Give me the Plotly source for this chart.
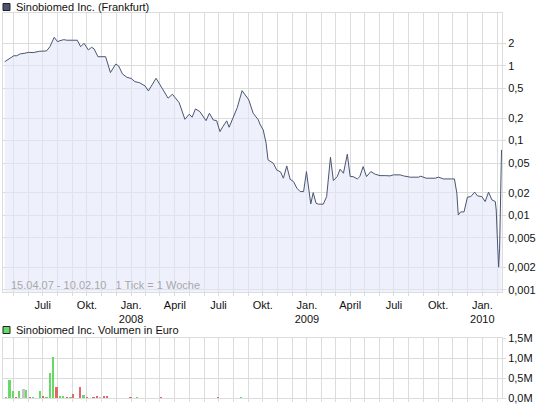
import plotly.graph_objects as go

# Kursdaten (Frankfurt)
price_dates = [
    "2007-04-13", "2007-04-24", "2007-05-02", "2007-05-08", "2007-05-15", "2007-05-25", "2007-06-01", "2007-06-11", "2007-06-24", "2007-07-09",
    "2007-07-16", "2007-07-25", "2007-08-01", "2007-08-06", "2007-08-14", "2007-08-20", "2007-08-28", "2007-09-02", "2007-09-11", "2007-09-18",
    "2007-09-25", "2007-10-04", "2007-10-11", "2007-10-16", "2007-10-24", "2007-11-09", "2007-11-19", "2007-11-30", "2007-12-06", "2007-12-14",
    "2007-12-23", "2008-01-01", "2008-01-09", "2008-01-18", "2008-01-30", "2008-02-06", "2008-02-22", "2008-03-05", "2008-03-18", "2008-03-27",
    "2008-04-10", "2008-04-22", "2008-05-01", "2008-05-07", "2008-05-14", "2008-05-23", "2008-06-05", "2008-06-12", "2008-06-20", "2008-06-27",
    "2008-07-04", "2008-07-10", "2008-07-18", "2008-07-23", "2008-08-01", "2008-08-09", "2008-08-19", "2008-09-02", "2008-09-11", "2008-09-22",
    "2008-09-25", "2008-10-02", "2008-10-08", "2008-10-12", "2008-10-23", "2008-10-30", "2008-11-07", "2008-11-13", "2008-11-20", "2008-11-27",
    "2008-12-04", "2008-12-11", "2008-12-18", "2008-12-25", "2008-12-31", "2009-01-04", "2009-01-09", "2009-01-14", "2009-01-20", "2009-01-25",
    "2009-02-04", "2009-02-11", "2009-02-14", "2009-02-19", "2009-02-25", "2009-03-05", "2009-03-11", "2009-03-18", "2009-03-26", "2009-04-01",
    "2009-04-07", "2009-04-16", "2009-04-21", "2009-04-28", "2009-05-05", "2009-05-14", "2009-05-23", "2009-06-02", "2009-06-13", "2009-06-23",
    "2009-06-30", "2009-07-14", "2009-07-21", "2009-08-04", "2009-08-21", "2009-08-26", "2009-09-06", "2009-09-25", "2009-10-02", "2009-10-12",
    "2009-10-29", "2009-11-04", "2009-11-09", "2009-11-12", "2009-11-17", "2009-11-24", "2009-12-01", "2009-12-08", "2009-12-16", "2009-12-22",
    "2009-12-31", "2010-01-07", "2010-01-14", "2010-01-21", "2010-01-28", "2010-01-30", "2010-02-01", "2010-02-03", "2010-02-04", "2010-02-06",
    "2010-02-08", "2010-02-09", "2010-02-10",
]
prices = [
    1.14, 1.27, 1.37, 1.37, 1.45, 1.48, 1.52, 1.51, 1.57, 1.59,
    1.81, 2.42, 2.11, 2.18, 2.25, 2.21, 2.23, 2.21, 2.21, 1.81,
    2.01, 1.64, 1.78, 1.69, 1.33, 1.33, 0.814, 1.06, 1.0, 0.782,
    0.706, 0.68, 0.616, 0.598, 0.540, 0.463, 0.684, 0.512, 0.370, 0.418,
    0.323, 0.193, 0.226, 0.206, 0.266, 0.245, 0.185, 0.233, 0.189, 0.185,
    0.132, 0.154, 0.184, 0.151, 0.214, 0.277, 0.467, 0.351, 0.233, 0.189,
    0.167, 0.139, 0.0923, 0.0552, 0.0498, 0.0405, 0.0381, 0.0314, 0.0458, 0.0304,
    0.0283, 0.0231, 0.0208, 0.0208, 0.0385, 0.0231, 0.0142, 0.0201, 0.0145, 0.0141,
    0.0141, 0.0178, 0.0269, 0.0600, 0.0292, 0.0330, 0.0414, 0.0366, 0.0658, 0.0330,
    0.0330, 0.0307, 0.0330, 0.0449, 0.0330, 0.0385, 0.0355, 0.0340, 0.0340, 0.0337,
    0.0348, 0.0348, 0.0337, 0.0324, 0.0324, 0.0334, 0.0314, 0.0314, 0.0324, 0.0307,
    0.0307, 0.0307, 0.0198, 0.0101, 0.0111, 0.0111, 0.0175, 0.0178, 0.0204, 0.0182,
    0.0178, 0.0153, 0.0204, 0.0161, 0.0153, 0.0118, 0.00547, 0.0028, 0.00202, 0.00363,
    0.0124, 0.0405, 0.0751,
]

# Volumen in Euro
vol_dates = ["2007-04-17", "2007-04-24", "2007-05-02", "2007-05-08", "2007-05-14", "2007-05-23", "2007-05-29",
             "2007-06-06", "2007-06-12", "2007-06-27", "2007-07-03", "2007-07-10", "2007-07-18", "2007-07-24",
             "2007-07-31", "2007-08-08", "2007-08-14", "2007-08-22", "2007-08-29", "2007-09-04", "2007-09-18",
             "2007-09-25", "2007-10-03", "2007-10-16", "2007-10-24", "2007-10-30", "2007-11-07", "2007-11-13",
             "2008-01-01", "2008-01-15", "2008-03-05", "2008-07-01", "2008-08-18"]
vol_values = [25000, 450000, 175000, 25000, 175000, 225000, 200000, 25000, 25000, 175000, 50000,
              25000, 625000, 1025000, 275000, 50000, 50000, 25000, 25000, 100000, 275000, 75000,
              25000, 25000, 50000, 25000, 50000, 50000, 25000, 25000, 25000, 25000, 25000]
vol_dir = ["up", "up", "up", "down", "up", "flat", "up", "down", "up", "up", "down",
           "up", "up", "up", "down", "up", "up", "down", "up", "down", "down", "up",
           "down", "down", "down", "flat", "down", "down", "down", "up", "down", "down", "up"]

month_ticks = ["2007-05-01", "2007-06-01", "2007-07-01", "2007-08-01", "2007-09-01", "2007-10-01",
               "2007-11-01", "2007-12-01", "2008-01-01", "2008-02-01", "2008-03-01", "2008-04-01",
               "2008-05-01", "2008-06-01", "2008-07-01", "2008-08-01", "2008-09-01", "2008-10-01",
               "2008-11-01", "2008-12-01", "2009-01-01", "2009-02-01", "2009-03-01", "2009-04-01",
               "2009-05-01", "2009-06-01", "2009-07-01", "2009-08-01", "2009-09-01", "2009-10-01",
               "2009-11-01", "2009-12-01", "2010-01-01", "2010-02-01"]
month_labels = ["", "", "Juli", "", "", "Okt.", "", "", "Jan.<br>2008", "", "", "April",
                "", "", "Juli", "", "", "Okt.", "", "", "Jan.<br>2009", "", "", "April",
                "", "", "Juli", "", "", "Okt.", "", "", "Jan.<br>2010", ""]

price_ticks = [0.001, 0.002, 0.005, 0.01, 0.02, 0.05, 0.1, 0.2, 0.5, 1, 2]
price_labels = ["0,001", "0,002", "0,005", "0,01", "0,02", "0,05", "0,1", "0,2", "0,5", "1", "2"]
vol_ticks = [0, 500000, 1000000, 1500000]
vol_labels = ["0,0M", "0,5M", "1,0M", "1,5M"]

dir_colors = {"up": "#66d966", "down": "#e06868", "flat": "#c4c4c4"}

W, H = 545, 407
GRID = "#dcdcdc"
LINE = "#4b5570"
FONT = "Liberation Sans"

fig = go.Figure()

# unsichtbare Basislinie, damit die Fläche bis zum unteren Rand reicht
fig.add_trace(go.Scatter(x=price_dates, y=[0.0005] * len(price_dates), mode="lines",
                         line=dict(width=0), hoverinfo="skip", showlegend=False,
                         xaxis="x", yaxis="y"))
fig.add_trace(go.Scatter(x=price_dates, y=prices, mode="lines", fill="tonexty",
                         fillcolor="rgba(226,232,250,0.6)", line=dict(color=LINE, width=1),
                         showlegend=False, xaxis="x", yaxis="y"))

fig.add_trace(go.Bar(x=vol_dates, y=vol_values, width=3.5 * 86400000,
                     marker=dict(color=[dir_colors[d] for d in vol_dir], line=dict(width=0)),
                     showlegend=False, xaxis="x2", yaxis="y2"))

x_left = 3.3 / W
x_right = 502 / W
xrange = ["2007-04-10", "2010-02-11"]

axis_common = dict(tickvals=month_ticks, showgrid=True, gridcolor=GRID, gridwidth=1,
                   showline=True, linecolor=GRID, mirror=True, ticks="outside",
                   ticklen=3, tickcolor=GRID, zeroline=False, range=xrange, automargin=False)

fig.update_layout(
    width=W, height=H,
    margin=dict(l=0, r=0, t=0, b=0),
    paper_bgcolor="white", plot_bgcolor="white",
    font=dict(family=FONT, size=11, color="#111111"),
    bargap=0,
    xaxis=dict(domain=[x_left, x_right], anchor="y", ticktext=month_labels,
               tickfont=dict(size=11), **axis_common),
    yaxis=dict(domain=[1 - 291.7 / H, 1 - 13.3 / H], anchor="x", type="log",
               range=[-3.023, 0.705], side="right", tickvals=price_ticks, ticktext=price_labels,
               showgrid=True, gridcolor=GRID, showline=True, linecolor=GRID, mirror=True,
               ticks="outside", ticklen=3, tickcolor=GRID, zeroline=False, automargin=False),
    xaxis2=dict(domain=[x_left, x_right], anchor="y2", ticktext=[""] * len(month_ticks),
                **axis_common),
    yaxis2=dict(domain=[1 - 398 / H, 1 - 338 / H], anchor="x2", range=[0, 1500000],
                side="right", tickvals=vol_ticks, ticktext=vol_labels,
                showgrid=True, gridcolor=GRID, showline=True, linecolor=GRID, mirror=True,
                ticks="outside", ticklen=3, tickcolor=GRID, zeroline=False, automargin=False),
)

# Legenden-Kästchen und Titel
fig.add_shape(type="rect", xref="paper", yref="paper",
              x0=3 / W, x1=10 / W, y0=1 - 10.5 / H, y1=1 - 3.5 / H,
              fillcolor="#4b5570", line=dict(color="#222222", width=1))
fig.add_annotation(text="Sinobiomed Inc. (Frankfurt)", xref="paper", yref="paper",
                   x=14 / W, y=1 - 7 / H, xanchor="left", yanchor="middle",
                   showarrow=False, font=dict(size=11, color="#111111"))
fig.add_shape(type="rect", xref="paper", yref="paper",
              x0=3 / W, x1=10 / W, y0=1 - 333.5 / H, y1=1 - 326.5 / H,
              fillcolor="#66d966", line=dict(color="#222222", width=1))
fig.add_annotation(text="Sinobiomed Inc. Volumen in Euro", xref="paper", yref="paper",
                   x=14 / W, y=1 - 330 / H, xanchor="left", yanchor="middle",
                   showarrow=False, font=dict(size=11, color="#111111"))
fig.add_annotation(text="15.04.07 - 10.02.10   1 Tick = 1 Woche", xref="paper", yref="paper",
                   x=9 / W, y=1 - 285 / H, xanchor="left", yanchor="middle",
                   showarrow=False, font=dict(size=11, color="#a8a8a8"))

# Seitenrand des Browsers entfernen, damit die Grafik bei 0,0 beginnt
fig.write_html("out.html", config={"displayModeBar": False},
               post_script="document.body.style.margin='0';")
